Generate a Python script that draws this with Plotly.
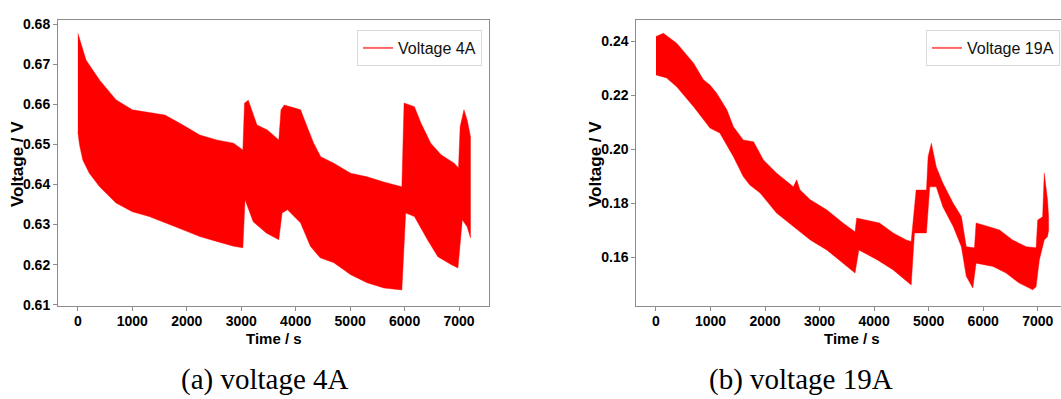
import plotly.graph_objects as go

# ---- data: envelope of the oscillating voltage signal ----
t_up_4 = [0, 150, 400, 700, 1000, 1600, 1930, 2240, 2550, 2860, 3030, 3060, 3130, 3290, 3480, 3690,
          3730, 3790, 3970, 4090, 4210, 4330, 4460, 4700, 5010, 5310, 5620, 5950, 5990, 6180, 6300,
          6480, 6670, 6910, 6990, 7020, 7090, 7150, 7210]
v_up_4 = [0.6777, 0.6710, 0.6660, 0.6611, 0.6586, 0.6573, 0.6548, 0.6523, 0.6511, 0.6503, 0.6486,
          0.6603, 0.6610, 0.6548, 0.6536, 0.6511, 0.6586, 0.6598, 0.6591, 0.6586, 0.6544, 0.6503,
          0.6469, 0.6453, 0.6428, 0.6419, 0.6406, 0.6394, 0.6603, 0.6594, 0.6553, 0.6503, 0.6474,
          0.6453, 0.6441, 0.6544, 0.6586, 0.6560, 0.6519]
t_lo_4 = [0, 30, 90, 210, 400, 700, 1000, 1310, 1620, 1930, 2240, 2550, 2860, 3030, 3070, 3220, 3460,
          3690, 3750, 3850, 4090, 4270, 4450, 4700, 5010, 5310, 5620, 5950, 6020, 6180, 6420, 6610,
          6860, 6980, 7060, 7150, 7210]
v_lo_4 = [0.6530, 0.6499, 0.6461, 0.6428, 0.6394, 0.6354, 0.6332, 0.6320, 0.6304, 0.6287, 0.6270,
          0.6258, 0.6246, 0.6242, 0.6362, 0.6307, 0.6279, 0.6262, 0.6329, 0.6337, 0.6304, 0.6246,
          0.6217, 0.6205, 0.6175, 0.6155, 0.6142, 0.6137, 0.6329, 0.6320, 0.6262, 0.6220, 0.6200,
          0.6192, 0.6312, 0.6294, 0.6267]

t_up_19 = [0, 135, 380, 690, 870, 990, 1110, 1300, 1420, 1600, 1790, 1970, 2210, 2520, 2580, 2640,
           2830, 3130, 3430, 3650, 3680, 3860, 4100, 4350, 4590, 4680, 4710, 4770, 4960, 4990, 5050,
           5140, 5260, 5450, 5600, 5690, 5840, 5870, 6060, 6300, 6540, 6790, 6970, 7000, 7090, 7120,
           7180, 7200]
v_up_19 = [0.2419, 0.2431, 0.2394, 0.2320, 0.2258, 0.2239, 0.2209, 0.2147, 0.2084, 0.2035, 0.2028,
           0.1961, 0.1912, 0.1861, 0.1887, 0.1850, 0.1813, 0.1776, 0.1727, 0.1694, 0.1745, 0.1738,
           0.1727, 0.1690, 0.1664, 0.1658, 0.1731, 0.1849, 0.1849, 0.1973, 0.2023, 0.1935, 0.1875,
           0.1800, 0.1751, 0.1639, 0.1635, 0.1727, 0.1716, 0.1701, 0.1664, 0.1639, 0.1635, 0.1738,
           0.1750, 0.1912, 0.1813, 0.1750]
t_lo_19 = [0, 195, 380, 690, 990, 1170, 1420, 1600, 1720, 1910, 2210, 2520, 2830, 3130, 3430, 3650,
           3720, 4060, 4350, 4680, 4740, 4960, 5020, 5140, 5260, 5450, 5600, 5690, 5810, 5870, 6180,
           6420, 6660, 6910, 6970, 7030, 7120, 7180, 7200]
v_lo_19 = [0.2276, 0.2265, 0.2232, 0.2158, 0.2079, 0.2061, 0.1973, 0.1899, 0.1868, 0.1838, 0.1764,
           0.1714, 0.1664, 0.1627, 0.1578, 0.1541, 0.1627, 0.1590, 0.1553, 0.1497, 0.1690, 0.1690,
           0.1861, 0.1861, 0.1787, 0.1714, 0.1639, 0.1529, 0.1486, 0.1578, 0.1566, 0.1541, 0.1504,
           0.1479, 0.1490, 0.1590, 0.1664, 0.1676, 0.1700]

x_ticks = [0, 1000, 2000, 3000, 4000, 5000, 6000, 7000]
y_ticks_4 = [0.61, 0.62, 0.63, 0.64, 0.65, 0.66, 0.67, 0.68]
y_ticks_19 = [0.16, 0.18, 0.20, 0.22, 0.24]
series_names = ["Voltage 4A", "Voltage 19A"]
x_title = "Time / s"
y_title = "Voltage / V"
captions = ["(a) voltage 4A", "(b) voltage 19A"]

W, H = 1061, 399
RED = "#ff0000"
EDGE = "rgba(255,0,0,0.55)"
SANS = "Liberation Sans"
AX = "#8c8c8c"

fig = go.Figure()


def band(t_up, v_up, t_lo, v_lo, xa, ya):
    fig.add_trace(go.Scatter(
        x=list(t_up) + list(reversed(t_lo)),
        y=list(v_up) + list(reversed(v_lo)),
        fill="toself", fillcolor=RED, mode="lines",
        line=dict(color=EDGE, width=0.8),
        xaxis=xa, yaxis=ya, showlegend=False, hoverinfo="skip"))


band(t_up_4, v_up_4, t_lo_4, v_lo_4, "x", "y")
band(t_up_19, v_up_19, t_lo_19, v_lo_19, "x2", "y2")

# legend entries
fig.add_trace(go.Scatter(x=[None], y=[None], mode="lines", name=series_names[0],
                         line=dict(color="rgba(255,0,0,0.6)", width=2),
                         xaxis="x", yaxis="y", legend="legend"))
fig.add_trace(go.Scatter(x=[None], y=[None], mode="lines", name=series_names[1],
                         line=dict(color="rgba(255,0,0,0.6)", width=2),
                         xaxis="x2", yaxis="y2", legend="legend2"))

tickfont = dict(family=SANS, size=14, color="black", weight="bold")


def xax(domain, rng, anchor, mirror):
    return dict(domain=domain, range=rng, anchor=anchor, tickvals=x_ticks,
                ticktext=[str(v) for v in x_ticks], ticks="outside", ticklen=4,
                tickcolor=AX, tickfont=tickfont, showgrid=False, zeroline=False,
                showline=True, linecolor=AX, linewidth=1, mirror=mirror,
                automargin=False, ticklabelstandoff=-2)


def yax(domain, rng, anchor, vals, mirror):
    return dict(domain=domain, range=rng, anchor=anchor, tickvals=vals,
                ticktext=["%.2f" % v for v in vals], ticks="outside", ticklen=4,
                tickcolor=AX, tickfont=tickfont, showgrid=False, zeroline=False,
                showline=True, linecolor=AX, linewidth=1, mirror=mirror,
                automargin=False)


ydom = [1 - 306 / H, 1 - 20 / H]
fig.update_layout(
    template="none",
    width=W, height=H, margin=dict(l=0, r=0, t=0, b=0, autoexpand=False),
    paper_bgcolor="white", plot_bgcolor="white",
    xaxis=xax([58 / W, 489 / W], [-365, 7550], "y", True),
    yaxis=yax(ydom, [0.6097, 0.681], "x", y_ticks_4, True),
    xaxis2=xax([636.3 / W, 1.0], [-361, 7427], "y2", True),
    yaxis2=yax(ydom, [0.1419, 0.248], "x2", y_ticks_19, False),
)

legend_common = dict(bgcolor="white", bordercolor="#d9d9d9", borderwidth=1,
                     font=dict(family=SANS, size=16, color="#111"),
                     xanchor="right", yanchor="top", itemwidth=30)
fig.update_layout(
    legend=dict(x=482 / W, y=1 - 30 / H, **legend_common),
    legend2=dict(x=1060 / W, y=1 - 30 / H, **legend_common),
)

ann = []
for cx in [273.5, 852]:
    ann.append(dict(text=x_title, x=cx / W, y=1 - 338 / H, xref="paper", yref="paper",
                    showarrow=False, xanchor="center", yanchor="middle",
                    font=dict(family=SANS, size=15, color="black", weight="bold")))
for cx in [17, 595]:
    ann.append(dict(text=y_title, x=cx / W, y=1 - 164 / H, xref="paper", yref="paper",
                    showarrow=False, xanchor="center", yanchor="middle", textangle=-90,
                    font=dict(family=SANS, size=17, color="black", weight="bold")))
for cx, txt in zip([265, 801], captions):
    ann.append(dict(text=txt, x=cx / W, y=1 - 379 / H, xref="paper", yref="paper",
                    showarrow=False, xanchor="center", yanchor="middle",
                    font=dict(family="Liberation Serif", size=29, color="black")))
fig.update_layout(annotations=ann)

fig.write_html("out.html", config={"displayModeBar": False},
               post_script="document.body.style.margin='0';document.body.style.overflow='hidden';")
